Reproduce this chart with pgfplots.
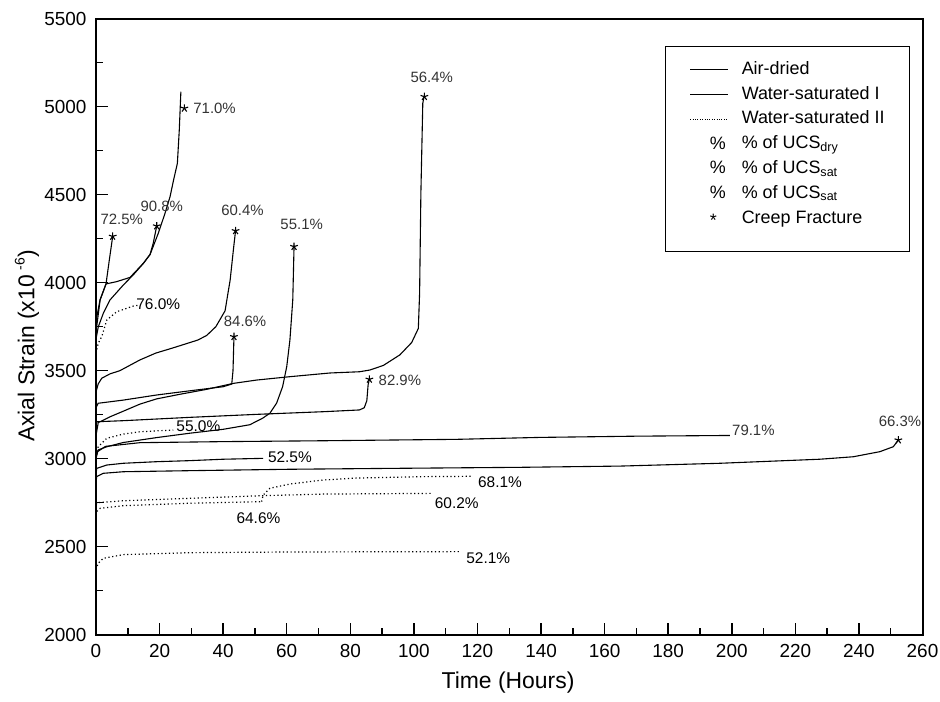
\documentclass[border=0pt]{standalone}
\usepackage{fontspec}
\setmainfont{Liberation Sans}
\usepackage{pgfplots}
\pgfplotsset{compat=1.18}
\begin{document}
\begin{tikzpicture}[
  dry/.style={font=\fontsize{15}{17}\selectfont, text=black!80},
  sat/.style={font=\fontsize{15.5}{17}\selectfont, text=black},
  dots/.style={dash pattern=on 1.2bp off 2.6bp, line width=1.2bp},
  pct/.style={inner sep=0pt, font=\fontsize{18}{20}\selectfont, text height=0pt, text depth=0pt},
]
\useasboundingbox (-96bp,-67.3bp) rectangle (844bp,634.7bp);
\begin{axis}[
  scale only axis, width=826.5bp, height=616bp,
  xmin=0, xmax=260, ymin=2000, ymax=5500,
  xtick={0,20,...,260}, ytick={2000,2500,...,5500},
  minor x tick num=1, minor y tick num=1,
  xtick pos=left, ytick pos=left,
  tick align=inside,
  major tick length=12bp, minor tick length=7bp,
  axis line style={line width=2pt},
  every tick/.style={black, line width=1.5pt},
  ticklabel style={font=\fontsize{19}{21}\selectfont},
  xticklabel style={yshift=-6bp},
  yticklabel style={xshift=-6bp},
  /pgf/number format/assume math mode=true,
  /pgf/number format/1000 sep={},
  xlabel={Time (Hours)},
  ylabel={Axial Strain (x10\hspace{5bp}\raisebox{0.8ex}{\fontsize{14}{14}\selectfont -6})},
  xlabel style={at={(axis description cs:0.4985,-0.0779)}, anchor=center, font=\fontsize{23}{26}\selectfont},
  ylabel style={at={(axis description cs:-0.0835,0.4687)}, anchor=center, rotate=0, font=\fontsize{23}{26}\selectfont},
  legend style={at={(rel axis cs:0.6885,0.9557)}, anchor=north west, draw=black, line width=1.2bp,
    font=\fontsize{18}{20}\selectfont, inner xsep=24bp, inner ysep=13.7bp,
    nodes={inner sep=1bp, text height=13bp, text depth=4bp}, row sep=5.8bp},
  legend cell align=left,
  every axis plot/.append style={black, line width=1.1bp},
]
% ---- legend ----
\addlegendimage{legend image code/.code={\draw[black, line width=1bp] (0bp,0bp) -- (38bp,0bp); \path (0bp,0bp) (50bp,0bp);}}
\addlegendentry{Air-dried}
\addlegendimage{legend image code/.code={\draw[black, line width=1bp] (0bp,0bp) -- (38bp,0bp); \path (0bp,0bp) (50bp,0bp);}}
\addlegendentry{Water-saturated I}
\addlegendimage{legend image code/.code={\draw[black, line width=0.8bp, dash pattern=on 0.8bp off 1.6bp] (0bp,0bp) -- (38bp,0bp); \path (0bp,0bp) (50bp,0bp);}}
\addlegendentry{Water-saturated II}
\addlegendimage{legend image code/.code={\node[pct] at (19bp,-5bp) {\%}; \path (0bp,0bp) (50bp,0bp);}}
\addlegendentry{\% of UCS\textsubscript{dry}}
\addlegendimage{legend image code/.code={\node[pct] at (19bp,-5bp) {\%}; \path (0bp,0bp) (50bp,0bp);}}
\addlegendentry{\% of UCS\textsubscript{sat}}
\addlegendimage{legend image code/.code={\node[pct] at (19bp,-5bp) {\%}; \path (0bp,0bp) (50bp,0bp);}}
\addlegendentry{\% of UCS\textsubscript{sat}}
\addlegendimage{legend image code/.code={\node[pct] at (19bp,-8bp) {*}; \path (0bp,0bp) (50bp,0bp);}}
\addlegendentry{Creep Fracture}
\addlegendimage{empty legend}
\addlegendentry[text height=0bp, text depth=2bp]{}

% ---- solid curves ----
% 71.0%
\addplot[forget plot] coordinates {(0,3780) (1.26,3902) (3.15,3993) (6.5,4006) (10.7,4030) (14.9,4110) (17.0,4160) (19.6,4281) (21.7,4394) (23.3,4489) (24.4,4583) (25.6,4678) (26.2,4868) (26.7,5085)};
% 72.5%
\addplot[forget plot] coordinates {(0,3720) (1.3,3902) (3.15,3993) (4.2,4130) (5.25,4263)};
% 90.8%
\addplot[forget plot] coordinates {(0,3680) (0.73,3750) (2.3,3826) (4.4,3902) (8.6,3987) (11.7,4044) (14.9,4110) (17,4160) (18,4224) (19.1,4322)};
% 60.4%
\addplot[forget plot] coordinates {(0,3380) (0.7,3425) (1.8,3457) (4.4,3482) (7.5,3500) (13.8,3561) (18.8,3600) (24.3,3630) (32,3674) (34.8,3700) (37.7,3750) (40.6,3840) (42.2,4015) (43.3,4200) (43.9,4295)};
% 84.6%
\addplot[forget plot] coordinates {(0,3290) (0.7,3315) (8.6,3333) (19.1,3362) (29.6,3386) (40,3409) (42.7,3424) (43.1,3500) (43.4,3693)};
% 56.4%
\addplot[forget plot] coordinates {(0,3130) (0.7,3205) (4.4,3238) (8.6,3270) (13.8,3310) (19.1,3340) (26.4,3366) (34.8,3394) (43.2,3428) (50.6,3447) (61,3466) (73.6,3487) (82.9,3494) (86.2,3504) (90.4,3530) (95.6,3590) (99.3,3660) (101.4,3740) (101.8,3940) (102.2,4508) (102.8,5019) (103.2,5057)};
% 55.1%
\addplot[forget plot] coordinates {(0,3010) (0.7,3050) (3.4,3068) (8.6,3092) (19.1,3120) (29.6,3145) (40,3167) (48.4,3193) (52.4,3230) (54.7,3258) (56.8,3315) (58.7,3409) (60,3523) (61,3674) (61.9,3902) (62.3,4205)};
% 82.9%
\addplot[forget plot] coordinates {(0,3170) (0.2,3210) (8.6,3216) (29.6,3235) (50.6,3252) (71.5,3267) (82.9,3277) (84.4,3290) (85.2,3330) (85.6,3420) (86.0,3451)};
% 79.1%
\addplot[forget plot] coordinates {(0,3000) (0.5,3040) (3,3070) (13.8,3091) (40,3097) (71.5,3102) (113.4,3110) (139.7,3121) (170,3128) (199.4,3132)};
% 52.5%
\addplot[forget plot] coordinates {(0,2900) (0.2,2945) (3.4,2964) (8.6,2974) (19.1,2983) (29.6,2989) (40,2997) (52.6,3002)};
% 66.3%
\addplot[forget plot] coordinates {(0,2860) (0.2,2898) (2.3,2917) (8.6,2926) (29.6,2932) (61,2940) (92.5,2945) (133.4,2951) (164.8,2958) (196.3,2974) (227.7,2997) (238.2,3011) (246.6,3040) (250.8,3068) (252.4,3106)};

% ---- dotted curves ----
% 76.0%
\addplot[dots, forget plot] coordinates {(0,3600) (0.7,3656) (1.8,3693) (3.4,3788) (6.5,3835) (11.7,3867) (13.5,3872)};
% 55.0%
\addplot[dots, forget plot] coordinates {(0,3020) (0.7,3068) (3.4,3116) (8.6,3140) (13.8,3153) (24.3,3163)};
% 60.2%
\addplot[dots, forget plot] coordinates {(0,2720) (0.2,2750) (8.6,2761) (29.6,2775) (52.6,2790) (71.5,2799) (106,2803)};
% 64.6%
\addplot[dots, forget plot] coordinates {(0,2680) (0.2,2699) (1.3,2718) (8.6,2733) (29.6,2747) (52.1,2756)};
% 68.1%
\addplot[dots, forget plot] coordinates {(52.1,2756) (52.6,2794) (54.7,2832) (61,2856) (71.5,2879) (82,2890) (102.9,2898) (118.6,2900)};
% 52.1%
\addplot[dots, forget plot] coordinates {(0,2370) (0.7,2406) (2.3,2434) (8.6,2455) (29.6,2466) (61,2470) (114.5,2472)};

% ---- creep fracture stars ----
\addplot[only marks, mark=star, mark size=4bp, mark options={line width=1.1bp}, forget plot] coordinates {
 (5.25,4263) (19.1,4322) (27.8,4991) (43.9,4295) (62.3,4205) (103.3,5057) (43.4,3693) (86.0,3451) (252.4,3106)};

% ---- labels ----
\node[dry] at (axis cs:8.1,4360) {72.5\%};
\node[dry] at (axis cs:20.7,4432) {90.8\%};
\node[dry] at (axis cs:37.3,4991) {71.0\%};
\node[dry] at (axis cs:46.1,4413) {60.4\%};
\node[dry] at (axis cs:64.7,4333) {55.1\%};
\node[dry] at (axis cs:46.9,3778) {84.6\%};
\node[dry] at (axis cs:105.6,5167) {56.4\%};
\node[dry] at (axis cs:95.6,3447) {82.9\%};
\node[dry] at (axis cs:206.8,3163) {79.1\%};
\node[dry] at (axis cs:252.9,3210) {66.3\%};
\node[sat] at (axis cs:19.6,3879) {76.0\%};
\node[sat] at (axis cs:32.2,3182) {55.0\%};
\node[sat] at (axis cs:61,3008) {52.5\%};
\node[sat] at (axis cs:127.1,2864) {68.1\%};
\node[sat] at (axis cs:113.5,2750) {60.2\%};
\node[sat] at (axis cs:51.1,2661) {64.6\%};
\node[sat] at (axis cs:123.4,2434) {52.1\%};
\end{axis}
\end{tikzpicture}
\end{document}
